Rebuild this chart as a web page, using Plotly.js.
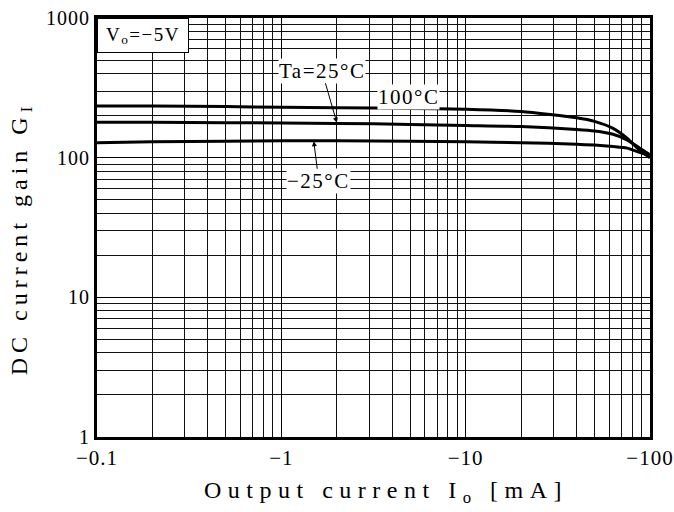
<!DOCTYPE html>
<html>
<head>
<meta charset="utf-8">
<script src="https://cdn.plot.ly/plotly-3.0.1.min.js"></script>
<style>
  html, body { margin: 0; padding: 0; background: #fff; }
  .xtitle { letter-spacing: 6.5px; }
  .ytitle { letter-spacing: 5px; }
  .annotation-text { letter-spacing: 1.5px; }
  .xtick text, .ytick text { letter-spacing: 1px; }
</style>
</head>
<body>
<div id="chart" style="width:674px;height:512px;"></div>
<script>
// Output current |Io| in mA (plotted on log axis, labelled negative)
var current = [0.1, 0.2, 0.5, 1, 2, 5, 10, 20, 40, 50, 63, 75, 88, 100];
// DC current gain GI for each ambient temperature
var gain100 = [234, 234, 232, 230, 228, 225, 222, 214, 193, 182, 162, 138, 113, 100];
var gain25  = [179, 179, 178, 177, 176, 173, 170, 167, 159, 155, 147, 134, 117, 105];
var gainM25 = [128, 130, 131, 132, 132, 131, 130, 128, 125, 123, 120, 117, 109, 103];

var xTickVals = [0.1, 1, 10, 100];
var xTickText = ["\u22120.1", "\u22121", "\u221210", "\u2212100"];
var yTickVals = [1, 10, 100, 1000];
var yTickText = ["1", "10", "100", "1000"];

var serif = "Liberation Serif, Times New Roman, serif";

function curve(y, name) {
  return {
    x: current, y: y, name: name, type: "scatter", mode: "lines",
    line: { color: "#000", width: 3, shape: "spline", smoothing: 0.6 },
    showlegend: false, hoverinfo: "skip"
  };
}

var data = [curve(gain100, "100°C"), curve(gain25, "25°C"), curve(gainM25, "−25°C")];

var layout = {
  width: 674, height: 512,
  margin: { l: 97, r: 24, t: 18, b: 75 },
  paper_bgcolor: "#fff", plot_bgcolor: "#fff",
  font: { family: serif, color: "#000" },
  xaxis: {
    type: "log", range: [-1, 2],
    tickvals: xTickVals, ticktext: xTickText,
    tickfont: { size: 21, family: serif },
    ticks: "", ticklen: 0,
    showgrid: true, gridcolor: "#000", gridwidth: 1,
    minor: { showgrid: true, gridcolor: "#111", gridwidth: 1, dtick: "D1", ticks: "" },
    showline: true, mirror: true, linecolor: "#000", linewidth: 3,
    zeroline: false,
    title: { text: "&nbsp;&nbsp;Output current I<sub>o</sub> [mA]", font: { size: 24, family: serif }, standoff: 12 }
  },
  yaxis: {
    type: "log", range: [0, 3],
    tickvals: yTickVals, ticktext: yTickText,
    tickfont: { size: 20, family: serif },
    ticks: "", ticklen: 0,
    showgrid: true, gridcolor: "#000", gridwidth: 1,
    minor: { showgrid: true, gridcolor: "#111", gridwidth: 1, dtick: "D1", ticks: "" },
    showline: true, mirror: true, linecolor: "#000", linewidth: 3,
    zeroline: false,
    title: { text: "DC current gain G<sub>I</sub>&nbsp;&nbsp;", font: { size: 24, family: serif }, standoff: 12 }
  },
  annotations: [
    { xref: "paper", yref: "paper", x: 0, y: 1, xanchor: "left", yanchor: "top",
      text: "V<sub>o</sub>=\u22125V", showarrow: false, font: { size: 19, family: serif },
      bgcolor: "#fff", bordercolor: "#000", borderwidth: 1, width: 88, height: 31 },
    { x: Math.log10(2.0), y: Math.log10(178), xref: "x", yref: "y",
      text: "Ta=25°C", showarrow: true, arrowhead: 2, arrowsize: 1, arrowwidth: 1, arrowcolor: "#000",
      ax: -15, ay: -52, font: { size: 21, family: serif }, bgcolor: "#fff", borderpad: 0 },
    { x: Math.log10(4.9), y: Math.log10(272), xref: "x", yref: "y",
      text: "100°C", showarrow: false, font: { size: 21, family: serif }, bgcolor: "#fff", borderpad: 0 },
    { x: Math.log10(1.5), y: Math.log10(131), xref: "x", yref: "y",
      text: "\u221225°C", showarrow: true, arrowhead: 2, arrowsize: 1, arrowwidth: 1, arrowcolor: "#000",
      ax: 5, ay: 40, font: { size: 21, family: serif }, bgcolor: "#fff", borderpad: 0 }
  ]
};

Plotly.newPlot("chart", data, layout, { staticPlot: true, displayModeBar: false });
</script>
</body>
</html>
